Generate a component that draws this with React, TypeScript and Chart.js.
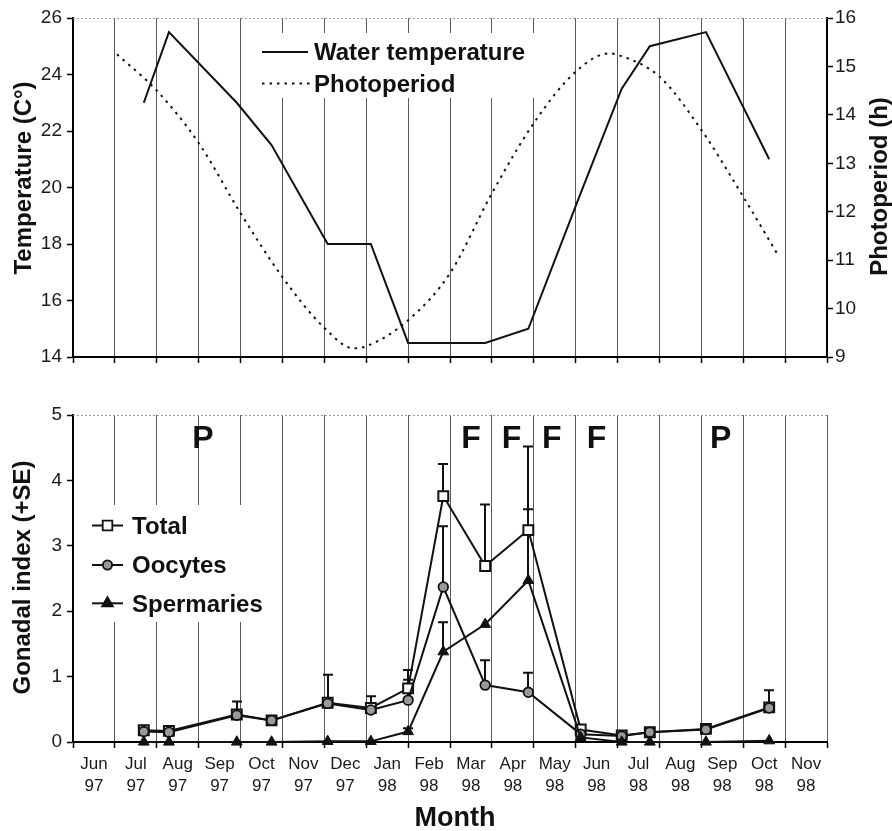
import React, { useEffect, useRef } from "react";
import { Chart, registerables } from "chart.js";

Chart.register(...registerables);

const FONT = "'Liberation Sans', Arial, Helvetica, sans-serif";

// ---- categories (months, index 0 = start of Jun 97) ----
const monthNames = ["Jun", "Jul", "Aug", "Sep", "Oct", "Nov", "Dec", "Jan", "Feb", "Mar", "Apr", "May", "Jun", "Jul", "Aug", "Sep", "Oct", "Nov"];
const monthYears = ["97", "97", "97", "97", "97", "97", "97", "98", "98", "98", "98", "98", "98", "98", "98", "98", "98", "98"];

// ---- sampling dates (in months from 1 Jun 97) ----
const samplePos = [1.69, 2.29, 3.91, 4.74, 6.08, 7.11, 8.0, 8.84, 9.84, 10.87, 12.12, 13.1, 13.77, 15.11, 16.62];

// ---- top panel ----
const waterTemp = [23.0, 25.5, 23.0, 21.5, 18.0, 18.0, 14.5, 14.5, 14.5, 15.0, 19.8, 23.5, 25.0, 25.5, 21.0];
const photoPos = [1.05, 2, 3, 4, 5, 6, 6.7, 7, 8, 9, 10, 11, 12, 12.8, 13, 14, 15, 16, 16.8];
const photoHours = [15.25, 14.5, 13.42, 11.97, 10.65, 9.6, 9.18, 9.22, 9.76, 10.73, 12.38, 13.83, 14.89, 15.27, 15.24, 14.79, 13.69, 12.31, 11.15];

// ---- bottom panel ----
const totalGI = [0.18, 0.17, 0.42, 0.33, 0.6, 0.52, 0.82, 3.76, 2.69, 3.24, 0.19, 0.1, 0.15, 0.2, 0.53];
const oocytesGI = [0.16, 0.15, 0.41, 0.33, 0.59, 0.49, 0.64, 2.37, 0.87, 0.76, 0.12, 0.09, 0.15, 0.19, 0.52];
const spermariesGI = [0.0, 0.0, 0.0, 0.0, 0.01, 0.01, 0.16, 1.38, 1.8, 2.47, 0.07, 0.0, 0.0, 0.0, 0.02];
const totalSE = [null, null, 0.2, null, 0.43, 0.18, 0.28, 0.49, 0.94, 1.28, null, null, null, null, 0.26];
const oocytesSE = [null, null, null, null, null, null, 0.31, 0.93, 0.38, 0.3, null, null, null, null, null];
const spermariesSE = [null, null, null, null, null, null, 0.05, 0.45, null, 1.09, null, null, null, null, null];

const phaseLabels = ["P", "F", "F", "F", "F", "P"];
const phasePos = [3.1, 9.5, 10.47, 11.43, 12.5, 15.46];

const INK = "#111";
const GRID = "#5a5a5a";

function pts(xs: number[], ys: number[]) {
  return xs.map((x, i) => ({ x, y: ys[i] }));
}

function vText(ctx: any, text: string, x: number, y: number, font: string) {
  ctx.save();
  ctx.translate(x, y);
  ctx.rotate(-Math.PI / 2);
  ctx.font = font;
  ctx.textAlign = "center";
  ctx.textBaseline = "alphabetic";
  ctx.fillStyle = INK;
  ctx.fillText(text, 0, 0);
  ctx.restore();
}

function monthAxis(showLabels: boolean, height: number): any {
  return {
    type: "linear",
    min: 0,
    max: 18,
    afterBuildTicks: (s: any) => {
      const t: any[] = [];
      for (let v = 0; v <= 36; v++) t.push({ value: v / 2 });
      s.ticks = t;
    },
    afterFit: (s: any) => {
      s.height = height;
    },
    grid: {
      color: (c: any) => (c.tick && Number.isInteger(c.tick.value) ? GRID : "rgba(0,0,0,0)"),
      tickColor: (c: any) => (c.tick && Number.isInteger(c.tick.value) ? "#000" : "rgba(0,0,0,0)"),
      lineWidth: 1,
      drawTicks: true,
      tickLength: 6,
      tickWidth: 1.5,
    },
    border: { display: true, color: "#000", width: 2 },
    ticks: {
      display: showLabels,
      autoSkip: false,
      maxRotation: 0,
      minRotation: 0,
      padding: 6,
      color: "#1a1a1a",
      font: { family: FONT, size: 17, lineHeight: 1.25 },
      callback: (v: number) => {
        if (Number.isInteger(v)) return "";
        const i = Math.floor(v);
        return i >= 0 && i < monthNames.length ? [monthNames[i], monthYears[i]] : "";
      },
    },
  };
}

function valueAxis(pos: string, min: number, max: number, step: number, width: number, pad: number): any {
  return {
    type: "linear",
    position: pos,
    min,
    max,
    ticks: { stepSize: step, color: "#1a1a1a", padding: pad, font: { family: FONT, size: 19 } },
    grid: { drawOnChartArea: false, drawTicks: true, tickLength: 6, tickColor: "#000", tickWidth: 1.5 },
    border: { display: true, color: "#000", width: 2 },
    afterFit: (s: any) => {
      s.width = width;
    },
  };
}

function drawTopBorder(chart: any) {
  const { ctx, chartArea: a } = chart;
  ctx.save();
  ctx.strokeStyle = "#9a9a9a";
  ctx.lineWidth = 1;
  ctx.setLineDash([2, 2]);
  ctx.beginPath();
  ctx.moveTo(a.left, a.top + 0.5);
  ctx.lineTo(a.right, a.top + 0.5);
  ctx.stroke();
  ctx.restore();
}

const topDecor = {
  id: "topDecor",
  beforeDatasetsDraw(chart: any) {
    drawTopBorder(chart);
    const { ctx } = chart;
    ctx.save();
    ctx.fillStyle = "#fff";
    ctx.fillRect(252, 33, 288, 65);
    ctx.restore();
  },
  afterDraw(chart: any) {
    const { ctx } = chart;
    ctx.save();
    ctx.strokeStyle = INK;
    ctx.fillStyle = INK;
    ctx.lineWidth = 2;
    ctx.beginPath();
    ctx.moveTo(262, 52);
    ctx.lineTo(308, 52);
    ctx.stroke();
    ctx.lineWidth = 2;
    ctx.setLineDash([2.5, 5]);
    ctx.beginPath();
    ctx.moveTo(262, 83.5);
    ctx.lineTo(310, 83.5);
    ctx.stroke();
    ctx.setLineDash([]);
    ctx.font = `bold 24px ${FONT}`;
    ctx.textAlign = "left";
    ctx.textBaseline = "alphabetic";
    ctx.fillText("Water temperature", 314, 60);
    ctx.fillText("Photoperiod", 314, 92);
    ctx.restore();
    vText(ctx, "Temperature (C°)", 30.5, 178, `bold 24px ${FONT}`);
    vText(ctx, "Photoperiod (h)", 887, 186.5, `bold 24px ${FONT}`);
  },
};

function drawMarker(ctx: any, kind: string, x: number, y: number) {
  ctx.save();
  ctx.lineWidth = 1.8;
  ctx.strokeStyle = INK;
  ctx.beginPath();
  if (kind === "rect") {
    ctx.fillStyle = "#fff";
    ctx.rect(x - 4.8, y - 4.8, 9.6, 9.6);
  } else if (kind === "circle") {
    ctx.fillStyle = "#9a9a9a";
    ctx.arc(x, y, 4.6, 0, Math.PI * 2);
  } else {
    const r = 6.2;
    ctx.fillStyle = INK;
    ctx.moveTo(x, y - r);
    ctx.lineTo(x + 0.866 * r, y + 0.5 * r);
    ctx.lineTo(x - 0.866 * r, y + 0.5 * r);
    ctx.closePath();
  }
  ctx.fill();
  ctx.stroke();
  ctx.restore();
}

const bottomDecor = {
  id: "bottomDecor",
  beforeDatasetsDraw(chart: any) {
    drawTopBorder(chart);
    const { ctx } = chart;
    const xs = chart.scales.x;
    const ys = chart.scales.y;
    ctx.save();
    ctx.fillStyle = "#fff";
    ctx.fillRect(86, 130, 188, 117);
    // error bars (+SE)
    ctx.strokeStyle = INK;
    ctx.lineWidth = 2;
    chart.data.datasets.forEach((ds: any) => {
      const se = ds.se as (number | null)[];
      if (!se) return;
      ds.data.forEach((p: any, i: number) => {
        const e = se[i];
        if (e == null) return;
        const px = Math.round(xs.getPixelForValue(p.x));
        const y0 = ys.getPixelForValue(p.y);
        const y1 = ys.getPixelForValue(p.y + e);
        ctx.beginPath();
        ctx.moveTo(px, y0);
        ctx.lineTo(px, y1);
        ctx.moveTo(px - 5, y1);
        ctx.lineTo(px + 5, y1);
        ctx.stroke();
      });
    });
    ctx.restore();
  },
  afterDraw(chart: any) {
    const { ctx } = chart;
    const xs = chart.scales.x;
    ctx.save();
    // legend
    const rows = [
      { label: "Total", kind: "rect", y: 150.5, base: 159.3 },
      { label: "Oocytes", kind: "circle", y: 190, base: 198.3 },
      { label: "Spermaries", kind: "triangle", y: 228.3, base: 236.7 },
    ];
    rows.forEach((r) => {
      ctx.strokeStyle = INK;
      ctx.lineWidth = 2;
      ctx.beginPath();
      ctx.moveTo(92, r.y);
      ctx.lineTo(123, r.y);
      ctx.stroke();
      drawMarker(ctx, r.kind, 107.5, r.y);
      ctx.fillStyle = INK;
      ctx.font = `bold 24px ${FONT}`;
      ctx.textAlign = "left";
      ctx.textBaseline = "alphabetic";
      ctx.fillText(r.label, 132, r.base);
    });
    // phase letters
    ctx.fillStyle = INK;
    ctx.font = `bold 32px ${FONT}`;
    ctx.textAlign = "center";
    phaseLabels.forEach((l, i) => {
      ctx.fillText(l, xs.getPixelForValue(phasePos[i]), 73.3);
    });
    // x title
    ctx.font = `bold 27px ${FONT}`;
    ctx.fillText("Month", 455, 451);
    ctx.restore();
    vText(ctx, "Gonadal index (+SE)", 29.5, 202.5, `bold 24px ${FONT}`);
  },
};

export default function App() {
  const topRef = useRef<HTMLCanvasElement>(null);
  const botRef = useRef<HTMLCanvasElement>(null);

  useEffect(() => {
    Chart.defaults.font.family = FONT;
    const common = {
      responsive: false,
      maintainAspectRatio: false,
      animation: false,
      devicePixelRatio: 1,
      events: [],
    };
    const top = new Chart(topRef.current as HTMLCanvasElement, {
      type: "line",
      data: {
        datasets: [
          {
            label: "Water temperature",
            data: pts(samplePos, waterTemp),
            yAxisID: "y",
            borderColor: INK,
            borderWidth: 2,
            pointRadius: 0,
            tension: 0,
            fill: false,
          },
          {
            label: "Photoperiod",
            data: pts(photoPos, photoHours),
            yAxisID: "y2",
            borderColor: INK,
            borderWidth: 2,
            borderDash: [2.5, 5],
            pointRadius: 0,
            cubicInterpolationMode: "monotone",
            fill: false,
          },
        ],
      },
      options: {
        ...common,
        layout: { padding: { top: 18, left: 0, right: 0, bottom: 0 } },
        plugins: { legend: { display: false }, tooltip: { enabled: false } },
        scales: {
          x: monthAxis(false, 18),
          y: valueAxis("left", 14, 26, 2, 73, 5),
          y2: valueAxis("right", 9, 16, 1, 65, 2),
        },
      } as any,
      plugins: [topDecor],
    } as any);

    const bot = new Chart(botRef.current as HTMLCanvasElement, {
      type: "line",
      data: {
        datasets: [
          {
            label: "Total",
            data: pts(samplePos, totalGI),
            se: totalSE,
            borderColor: INK,
            borderWidth: 2,
            pointStyle: "rect",
            pointRadius: 7,
            pointBackgroundColor: "#fff",
            pointBorderColor: INK,
            pointBorderWidth: 2,
            order: 2,
            clip: false,
            tension: 0,
          },
          {
            label: "Oocytes",
            data: pts(samplePos, oocytesGI),
            se: oocytesSE,
            borderColor: INK,
            borderWidth: 2,
            pointStyle: "circle",
            pointRadius: 4.8,
            pointBackgroundColor: "#9a9a9a",
            pointBorderColor: INK,
            pointBorderWidth: 1.8,
            order: 1,
            clip: false,
            tension: 0,
          },
          {
            label: "Spermaries",
            data: pts(samplePos, spermariesGI),
            se: spermariesSE,
            borderColor: INK,
            borderWidth: 2,
            pointStyle: "triangle",
            pointRadius: 6.2,
            pointBackgroundColor: INK,
            pointBorderColor: INK,
            pointBorderWidth: 1,
            order: 0,
            clip: false,
            tension: 0,
          },
        ],
      },
      options: {
        ...common,
        layout: { padding: { top: 40, left: 0, right: 65, bottom: 0 } },
        plugins: { legend: { display: false }, tooltip: { enabled: false } },
        scales: {
          x: monthAxis(true, 89),
          y: valueAxis("left", 0, 5, 1, 73, 5),
        },
      } as any,
      plugins: [bottomDecor],
    } as any);

    return () => {
      top.destroy();
      bot.destroy();
    };
  }, []);

  return (
    <div style={{ position: "absolute", left: 0, top: 0, width: 892, height: 831, background: "#fff" }}>
      <canvas
        ref={topRef}
        width={892}
        height={375}
        style={{ position: "absolute", left: 0, top: 0, width: 892, height: 375, display: "block" }}
      />
      <canvas
        ref={botRef}
        width={892}
        height={456}
        style={{ position: "absolute", left: 0, top: 375, width: 892, height: 456, display: "block" }}
      />
    </div>
  );
}
